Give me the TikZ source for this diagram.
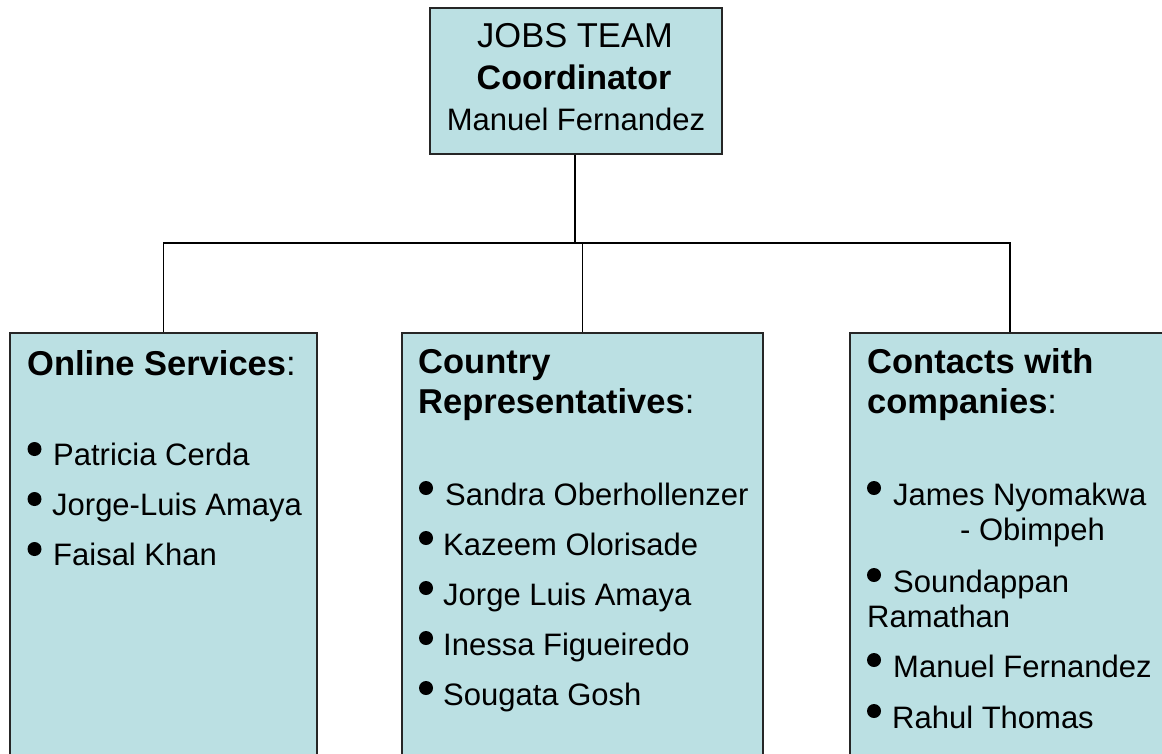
\documentclass[tikz,border=0pt]{standalone}
\usepackage{fontspec}
\setmainfont{Liberation Sans}
\definecolor{boxfill}{RGB}{187,224,227}
\begin{document}
\begin{tikzpicture}[x=1pt,y=-1pt,
  orgbox/.style={draw=black!85, line width=1.5pt, fill=boxfill, inner sep=0pt},
  conn/.style={line width=1.8pt},
  thinconn/.style={line width=1.3pt},
  txtbase/.style={inner sep=0pt, font=\fontsize{31}{35}\selectfont},
  person/.style={txtbase, anchor=base west},
  headtxt/.style={anchor=base west, inner sep=0pt, font=\fontsize{34.5}{40}\selectfont},
  bul/.style={fill=black, circle, inner sep=0pt, minimum size=14pt}]
\useasboundingbox (0,0) rectangle (1162,753);
\clip (0,0) rectangle (1162,753);
% boxes
\node[orgbox, minimum width=292pt, minimum height=146pt] (top) at (576,81) {};
\node[orgbox, minimum width=307pt, minimum height=447pt] (online) at (163.5,556.5) {};
\node[orgbox, minimum width=361pt, minimum height=447pt] (country) at (582.5,556.5) {};
\node[orgbox, minimum width=320pt, minimum height=447pt] (contacts) at (1010,556.5) {};
% connectors
\coordinate (hub) at (575,243);
\draw[conn] (top.south -| hub) -- (hub);
\draw[conn] (online.north) |- (contacts.north |- hub) -- (contacts.north);
\draw[thinconn] (country.north) -- (country.north |- hub);
% top box text
\node[txtbase, anchor=base, font=\fontsize{34.5}{36}\selectfont] (t1) at (575,47) {JOBS TEAM};
\node[txtbase, anchor=base, font=\fontsize{34}{36}\selectfont\bfseries] (t2) at (574,89) {Coordinator};
\node[txtbase, anchor=base] (t3) at (576,130) {Manuel Fernandez};
% online services
\node[headtxt] (h1) at (27,375) {\textbf{Online Services}:};
\node[bul] (b11) at (34.5,449) {};
\node[person] (n11) at (53,465) {Patricia Cerda};
\node[bul] (b12) at (34.5,499) {};
\node[person] (n12) at (52,515) {Jorge-Luis Amaya};
\node[bul] (b13) at (34.5,549) {};
\node[person] (n13) at (53,565) {Faisal Khan};
% country representatives
\node[headtxt] (h2a) at (418,373) {\textbf{Country}};
\node[headtxt] (h2b) at (418,413) {\textbf{Representatives}:};
\node[bul] (b21) at (426,488) {};
\node[person] (n21) at (445,505) {Sandra Oberhollenzer};
\node[bul] (b22) at (426,538) {};
\node[person] (n22) at (443,555) {Kazeem Olorisade};
\node[bul] (b23) at (426,588) {};
\node[person] (n23) at (443,605) {Jorge Luis Amaya};
\node[bul] (b24) at (426,638) {};
\node[person] (n24) at (443,655) {Inessa Figueiredo};
\node[bul] (b25) at (426,688) {};
\node[person] (n25) at (443,705) {Sougata Gosh};
% contacts with companies
\node[headtxt] (h3a) at (867,373) {\textbf{Contacts with}};
\node[headtxt] (h3b) at (867,413) {\textbf{companies}:};
\node[bul] (b31) at (874,488) {};
\node[person] (n31) at (893,505) {James Nyomakwa};
\node[person] (n31b) at (960,540) {- Obimpeh};
\node[bul] (b32) at (874,575) {};
\node[person] (n32) at (893,592) {Soundappan};
\node[person] (n32b) at (867,627) {Ramathan};
\node[bul] (b33) at (874,660) {};
\node[person] (n33) at (893,677) {Manuel Fernandez};
\node[bul] (b34) at (874,711) {};
\node[person] (n34) at (892,728) {Rahul Thomas};
\end{tikzpicture}
\end{document}
